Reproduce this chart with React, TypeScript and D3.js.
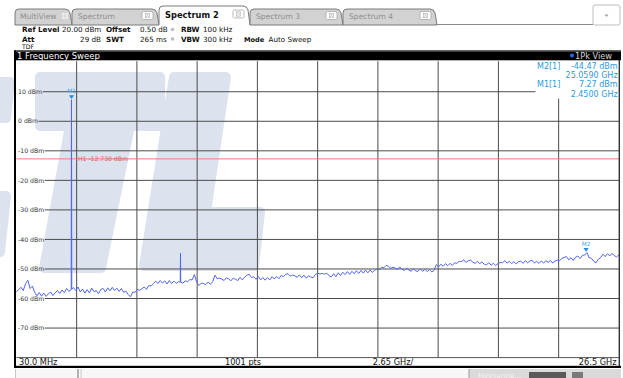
import React from 'react';
import * as d3 from 'd3';

// ---------- data ----------
const startGHz = 0.03;
const stopGHz = 26.5;
const refLevel = 20;
const bottomLevel = -80;
const yTicks = [10, 0, -10, -20, -30, -40, -50, -60, -70];
const xDivisions = 10;
const h1Level = -12.73;

// noise-floor trace levels (dBm), evenly spaced sweep points from start to stop
const levels = [
  -57.7, -57.0, -56.2, -57.3, -55.0, -53.8, -56.6, -55.8, -57.9, -59.1,
  -58.0, -59.2, -58.2, -59.3, -58.4, -57.8, -59.0, -58.1, -57.3, -58.3,
  -57.1, -58.0, -56.6, -57.6, -57.0, -56.3, -57.3, -56.1, -57.8, -56.8,
  -58.2, -57.0, -58.1, -56.5, -57.7, -57.3, -58.4, -56.9, -56.6, -57.8,
  -56.4, -57.4, -56.2, -57.3, -56.5, -57.6, -56.6, -57.9, -57.5, -58.7,
  -59.4, -57.8, -57.9, -56.9, -57.2, -56.7, -56.1, -56.9, -55.6, -55.8,
  -55.0, -54.1, -54.9, -53.9, -54.8, -54.0, -55.1, -53.9, -54.9, -54.1,
  -54.9, -54.3, -54.5, -54.8, -54.0, -54.3, -53.6, -53.7, -51.9, -54.5,
  -55.6, -54.8, -54.9, -55.3, -54.4, -55.2, -54.3, -52.1, -53.3, -53.1,
  -53.4, -53.9, -53.0, -53.3, -54.0, -53.1, -53.5, -53.9, -52.8, -53.7,
  -52.8, -52.1, -51.8, -52.9, -52.6, -53.5, -52.5, -53.7, -52.9, -53.8,
  -52.9, -53.7, -52.6, -53.4, -52.5, -53.3, -52.2, -52.6, -51.8, -51.6,
  -52.4, -52.1, -52.3, -52.8, -52.0, -53.0, -52.1, -53.1, -52.3, -52.7,
  -53.0, -51.9, -51.4, -51.7, -51.5, -51.8, -51.4, -52.3, -52.7, -51.6,
  -52.6, -51.3, -52.2, -51.1, -51.9, -50.9, -51.8, -50.8, -51.6, -50.6,
  -51.5, -50.5, -51.4, -50.4, -51.3, -50.3, -51.2, -50.4, -50.0, -50.3,
  -49.4, -49.6, -48.8, -49.1, -49.8, -49.4, -49.7, -50.2, -49.3, -50.1,
  -50.5, -49.7, -50.4, -50.8, -49.9, -50.7, -50.8, -50.0, -50.8, -50.1,
  -50.9, -50.2, -51.0, -50.5, -48.5, -49.3, -48.4, -49.1, -48.2, -48.9,
  -48.1, -48.8, -47.9, -48.1, -47.4, -47.5, -46.9, -47.8, -47.2, -47.0,
  -47.7, -48.1, -47.4, -48.2, -47.6, -48.4, -48.6, -47.9, -48.7, -48.1,
  -48.8, -48.2, -47.8, -47.9, -47.2, -48.0, -47.4, -48.2, -47.5, -48.3,
  -47.6, -47.3, -48.1, -47.2, -47.9, -47.3, -47.1, -48.0, -47.4, -48.1,
  -47.3, -48.0, -47.2, -47.8, -47.1, -48.0, -47.3, -47.0, -47.2, -46.4,
  -46.1, -45.8, -46.9, -46.2, -47.1, -46.0, -45.6, -46.5, -45.4, -45.3,
  -44.47, -46.2, -46.4, -47.4, -47.9, -46.7, -46.1, -45.0, -45.8, -44.8,
  -45.6, -44.7, -45.5, -45.9, -45.2,
];

// narrow spurs on top of the noise floor
const spurFreqs = [2.45, 7.24];
const spurLevels = [7.27, -44.7];

const markerNames = ['M1', 'M2'];
const markerFreqs = [2.45, 25.059];
const markerLevels = [7.27, -44.47];

const footerLabels = ['30.0 MHz', '1001 pts', '2.65 GHz/', '26.5 GHz'];
const tabNames = ['MultiView', 'Spectrum', 'Spectrum 2', 'Spectrum 3', 'Spectrum 4'];
const activeTab = 2;

// ---------- layout ----------
const W = 623;
const H = 378;
const FONT = '"DejaVu Sans", Verdana, sans-serif';
const PL = 16.4, PR = 618.9, PT = 62.2, PB = 357.6;
const WM = '#dce3ef';

function labelWidth(t: string, size: number) {
  let w = 0;
  for (const c of t) {
    if (c >= '0' && c <= '9') w += 0.636;
    else if (c === '-') w += 0.338;
    else if (c === ' ') w += 0.318;
    else if (c === 'd') w += 0.635;
    else if (c === 'B') w += 0.686;
    else if (c === 'm') w += 0.974;
    else w += 0.6;
  }
  return w * size;
}

function tabPath(x0: number, x1: number, top: number, bottom: number) {
  const r = 4;
  return `M${x0},${bottom} L${x0},${top + r} Q${x0},${top} ${x0 + r},${top} L${x1 - r - 3},${top} Q${x1 - 3},${top} ${x1 - 2},${top + r} L${x1},${bottom}`;
}

export default function App() {
  const x = d3.scaleLinear().domain([startGHz, stopGHz]).range([PL, PR]);
  const y = d3.scaleLinear().domain([bottomLevel, refLevel]).range([PB, PT]);
  const step = (stopGHz - startGHz) / (levels.length - 1);
  const base: [number, number][] = levels.map((v, i) => [startGHz + i * step, v]);
  const floorAt = (f: number) => {
    const k = Math.min(levels.length - 2, Math.floor((f - startGHz) / step));
    const t = (f - (startGHz + k * step)) / step;
    return levels[k] * (1 - t) + levels[k + 1] * t;
  };
  const spurPts: [number, number][] = [];
  spurFreqs.forEach((f, i) => {
    const d = 0.012;
    spurPts.push([f - d, floorAt(f - d)], [f, spurLevels[i]], [f + d, floorAt(f + d)]);
  });
  const pts = [...base, ...spurPts].sort((a, b) => a[0] - b[0]);
  const line = d3.line<[number, number]>().x(d => x(d[0])).y(d => y(d[1]));
  const divW = (stopGHz - startGHz) / xDivisions;
  const vGrid = d3.range(1, xDivisions).map(k => x(startGHz + k * divW));

  const tabX = [15, 72, 159, 250, 343, 437];

  // watermark letter outlines (decorative)
  const wmT = 'M40,77 H160 L160,126 H130 L101,268 H44 L70,126 H40 Z';
  const wmL = 'M174,77 H226 L206,212 H260 L254,266 H144 Z';

  const markerOrder = [1, 0];

  return (
    <svg width={W} height={H} style={{ position: 'fixed', left: 0, top: 0, background: '#fff' }} fontFamily={FONT}>
      <rect x={0} y={0} width={W} height={H} fill="#fff" />

      {/* tabs */}
      <line x1={15} x2={593} y1={24.5} y2={24.5} stroke="#8a8a8a" strokeWidth={1} />
      {tabNames.map((t, i) => {
        const x0 = tabX[i], x1 = tabX[i + 1];
        const active = i === activeTab;
        const top = active ? 6 : 9;
        return (
          <g key={t}>
            <path d={tabPath(x0, x1, top, 25) + (active ? '' : ' Z')} fill={active ? '#fff' : '#d2d2d2'} stroke="#7a7a7a" strokeWidth={1} />
            <text x={x0 + (i === 0 ? 5 : 6)} y={active ? 17.5 : 18.5} fontSize={active ? 8.3 : 7.6} fontWeight={active ? 'bold' : 'normal'} fill={active ? '#111' : '#8e8e8e'}>{t}</text>
            {i === 0 ? (
              <g fill="#eee">
                <rect x={62} y={13} width={2.6} height={2.6} />
                <rect x={65.4} y={13} width={2.6} height={2.6} />
                <rect x={62} y={16.4} width={2.6} height={2.6} />
                <rect x={65.4} y={16.4} width={2.6} height={2.6} />
              </g>
            ) : (
              <g>
                <rect x={x1 - 17} y={active ? 10 : 11.5} width={11} height={8} rx={1.5} fill="#fff" stroke="#a8a8a8" strokeWidth={0.8} />
                <rect x={x1 - 13.5} y={active ? 11.8 : 13.3} width={4} height={4.4} fill="none" stroke="#b0b0b0" strokeWidth={0.6} />
                <path d={`M${x1 - 13.5},${active ? 11.8 : 13.3} l4,4.4 M${x1 - 9.5},${active ? 11.8 : 13.3} l-4,4.4`} stroke="#b0b0b0" strokeWidth={0.6} />
              </g>
            )}
          </g>
        );
      })}
      <rect x={593} y={5} width={27} height={20} rx={2} fill="#fff" stroke="#bdbdbd" strokeWidth={1} />
      <path d="M604.5,14.5 h4 l-2,2.6 Z" fill="#a0a0a0" />

      {/* header */}
      <g fontSize={7.2} fill="#111">
        <text x={22} y={32} fontWeight="bold">Ref Level</text>
        <text x={62} y={32}>20.00 dBm</text>
        <text x={106} y={32} fontWeight="bold">Offset</text>
        <text x={140} y={32}>0.50 dB</text>
        <circle cx={172.5} cy={29.5} r={1.8} fill="#bdbdbd" />
        <text x={181} y={32} fontWeight="bold">RBW</text>
        <text x={203} y={32}>100 kHz</text>
        <text x={22} y={41.5} fontWeight="bold">Att</text>
        <text x={101} y={41.5} textAnchor="end">29 dB</text>
        <text x={106} y={41.5} fontWeight="bold">SWT</text>
        <text x={140} y={41.5}>265 ms</text>
        <circle cx={172.5} cy={39} r={1.8} fill="#bdbdbd" />
        <text x={181} y={41.5} fontWeight="bold">VBW</text>
        <text x={203} y={41.5}>300 kHz</text>
        <text x={244} y={41.5} fontWeight="bold" fontSize={6.6}>Mode</text>
        <text x={268.5} y={41.5}>Auto Sweep</text>
        <text x={22} y={48.6} fontSize={6.2}>TDF</text>
      </g>

      {/* title bar */}
      <rect x={15} y={50.3} width={606} height={10} fill="#000" />
      <rect x={15} y={50.3} width={606} height={1.3} fill="#6a6a6a" />
      <text x={17} y={58.6} fontSize={8.5} fill="#fff">1 Frequency Sweep</text>
      <circle cx={572} cy={55.6} r={2} fill="#2a62f0" />
      <text x={575} y={58.6} fontSize={8.2} fill="#d6d6d6">1Pk View</text>

      {/* watermark */}
      <g fill={WM} stroke={WM} strokeWidth={10} strokeLinejoin="round">
        <path d={wmT} />
        <path d={wmL} />
        <path d="M-40,82 H10 L6,118 H-40 Z" />
        <path d="M-40,196 H6 L0,252 H-40 Z" />
      </g>

      {/* grid */}
      <g stroke="#4c4c4c" strokeWidth={1}>
        {vGrid.map((gx, i) => (
          <line key={i} x1={gx} x2={gx} y1={i === 8 ? 98.5 : PT - 1} y2={PB} />
        ))}
        {yTicks.map(t => {
          const lbl = `${t} dBm`;
          const start = 18 + labelWidth(lbl, 6.2) + 0.5;
          const end = t === 10 ? 536 : PR;
          return <line key={t} x1={start} x2={end} y1={y(t)} y2={y(t)} />;
        })}
      </g>
      <g fontSize={6.2} fill="#333">
        {yTicks.map(t => (
          <text key={t} x={18} y={y(t) + 2.2}>{`${t} dBm`}</text>
        ))}
      </g>

      {/* H1 line */}
      <line x1={PL} x2={PR} y1={y(h1Level)} y2={y(h1Level)} stroke="#f07a7a" strokeWidth={1} />
      <text x={78} y={y(h1Level) + 2.2} fontSize={6.1} fill="#e25c5c">{`H1  ${h1Level.toFixed(3)} dBm`}</text>

      {/* trace */}
      <path d={line(pts) || ''} fill="none" stroke="#5164f2" strokeWidth={1} strokeLinejoin="round" />

      {/* markers */}
      {markerNames.map((m, i) => {
        const mx = x(markerFreqs[i]);
        const my = y(markerLevels[i]) - 0.8;
        return (
          <g key={m}>
            <path d={`M${mx - 2.6},${my - 3.8} H${mx + 2.6} L${mx},${my} Z`} fill="#1f8fe0" />
            <text x={mx} y={my - 5.6} fontSize={5.8} fill="#45a6e6" textAnchor="middle">{m}</text>
          </g>
        );
      })}

      {/* marker table */}
      <rect x={535.5} y={61.2} width={83} height={37} fill="#fff" />
      <g fontSize={8} fill="#2b9be0">
        {markerOrder.map((mi, row) => {
          const by = 68.7 + row * 18.6;
          return (
            <g key={mi}>
              <text x={537} y={by}>{`${markerNames[mi]}[1]`}</text>
              <text x={617.6} y={by} textAnchor="end">{`${markerLevels[mi].toFixed(2)} dBm`}</text>
              <text x={617.6} y={by + 9.3} textAnchor="end">{`${markerFreqs[mi].toFixed(4)} GHz`}</text>
            </g>
          );
        })}
      </g>

      {/* frame */}
      <line x1={PL} x2={PR} y1={PB} y2={PB} stroke="#555" strokeWidth={1} />
      <line x1={15} x2={15} y1={50.3} y2={368} stroke="#000" strokeWidth={2} />
      <line x1={619.3} x2={619.3} y1={60} y2={368} stroke="#333" strokeWidth={1.4} />
      <rect x={14} y={365.8} width={607} height={2.2} fill="#000" />

      {/* footer labels */}
      <g fontSize={8.2} fill="#111">
        <text x={19} y={364.6}>{footerLabels[0]}</text>
        <text x={243} y={364.6} textAnchor="middle">{footerLabels[1]}</text>
        <text x={393} y={364.6} textAnchor="middle">{footerLabels[2]}</text>
        <text x={616.5} y={364.6} textAnchor="end">{footerLabels[3]}</text>
      </g>

      {/* status strip */}
      <rect x={15} y={369} width={454} height={9} fill="#f7f7f7" />
      <line x1={15.5} x2={15.5} y1={369} y2={378} stroke="#c8c8c8" />
      <rect x={77} y={369} width={2} height={9} fill="#b0b0b0" />
      <rect x={80.5} y={369} width={1.2} height={9} fill="#d0d0d0" />
      <rect x={469} y={369} width={152} height={9} fill="#dadada" />
      <line x1={469} x2={469} y1={369} y2={378} stroke="#9a9a9a" />
      <text x={478} y={377.5} fontSize={7} fill="#f2f2f2">Measuring...</text>
      <rect x={529} y={372} width={37} height={6} fill="#5a5a5a" />
      <rect x={572} y={372} width={11} height={6} fill="#7a7a7a" />
    </svg>
  );
}
